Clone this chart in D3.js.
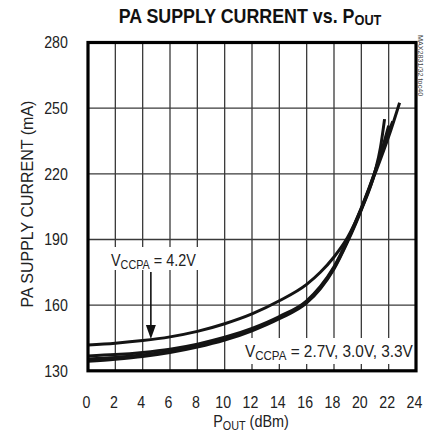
<!DOCTYPE html>
<html>
<head>
<meta charset="utf-8">
<script src="https://cdn.jsdelivr.net/npm/d3@7"></script>
<style>
  html, body { margin: 0; padding: 0; background: #fff; }
  svg { display: block; }
  text { font-family: "Liberation Sans", Arial, sans-serif; fill: #222; }
</style>
</head>
<body>
<svg id="chart" width="427" height="432"></svg>
<script>
// Axis ticks
const xTicks = [0, 2, 4, 6, 8, 10, 12, 14, 16, 18, 20, 22, 24];
const yTicks = [130, 160, 190, 220, 250, 280];
const xGrid = [2, 4, 6, 8, 10, 12, 14, 16, 18, 20, 22];
const yGrid = [160, 190, 220, 250];

// Supply current (mA) vs output power (dBm), one pair of lists per supply voltage
const pout42 = [0, 2, 4, 6, 8, 10, 12, 14, 16, 17, 18, 19, 20, 21, 22, 22.8];
const ma42   = [141.8, 142.6, 143.8, 145.5, 148, 151.5, 156, 162, 169.5, 175, 182, 191, 204, 220, 237, 252.5];
const pout33 = [0, 2, 4, 6, 8, 10, 12, 14, 16, 17, 18, 19, 20, 21, 21.7, 22.3];
const ma33   = [136.8, 137.4, 138.4, 139.9, 142.2, 145.3, 149.4, 154.8, 162, 168.5, 177.5, 190, 204.5, 221, 234, 244];
const pout30 = [0, 2, 4, 6, 8, 10, 12, 14, 16, 17, 18, 19, 20, 21, 21.6, 22.0];
const ma30   = [135.4, 136.1, 137.2, 138.9, 141.4, 144.6, 148.8, 154.3, 161.5, 168, 177, 189.5, 204, 221, 233, 242];
const pout27 = [0, 2, 4, 6, 8, 10, 12, 14, 16, 17, 18, 19, 20, 21, 21.4, 21.7];
const ma27   = [134.4, 135.3, 136.5, 138.3, 140.8, 144, 148.3, 153.8, 161, 167.5, 176.5, 189, 203.5, 221, 232, 245];

const seriesList = [
  { name: "2.7V", pout: pout27, ma: ma27 },
  { name: "3.0V", pout: pout30, ma: ma30 },
  { name: "3.3V", pout: pout33, ma: ma33 },
  { name: "4.2V", pout: pout42, ma: ma42 }
];

const svg = d3.select("#chart");
const plotLeft = 88, plotRight = 416, plotTop = 42.5, plotBottom = 370.8;

const x = d3.scaleLinear().domain([0, 24]).range([plotLeft, plotRight]);
const y = d3.scaleLinear().domain([130, 280]).range([plotBottom, plotTop]);

// Condensed text: horizontal squeeze about the anchor point
function label(px, py, sx, size) {
  return svg.append("text")
    .attr("transform", `translate(${px},${py}) scale(${sx},1)`)
    .style("font-size", size + "px");
}

// Title
const title = label(250, 23, 0.85, 21)
  .attr("text-anchor", "middle")
  .style("font-weight", "bold")
  .style("fill", "#111");
title.append("tspan").text("PA SUPPLY CURRENT vs. P");
title.append("tspan").attr("dy", 2).style("font-size", "15px").text("OUT");

// Grid lines
const grid = svg.append("g");
grid.selectAll("line.v").data(xGrid).join("line")
  .attr("x1", d => x(d)).attr("x2", d => x(d))
  .attr("y1", plotTop).attr("y2", plotBottom)
  .attr("stroke", "#3a3a3a").attr("stroke-width", 1.3);
grid.selectAll("line.h").data(yGrid).join("line")
  .attr("x1", plotLeft).attr("x2", plotRight)
  .attr("y1", d => y(d)).attr("y2", d => y(d))
  .attr("stroke", "#3a3a3a").attr("stroke-width", 1.3);

// Annotation backgrounds (mask grid lines behind the labels)
svg.append("rect").attr("x", 108).attr("y", 247).attr("width", 93).attr("height", 23).attr("fill", "#fff");
svg.append("rect").attr("x", 240).attr("y", 338).attr("width", 174).attr("height", 26).attr("fill", "#fff");

// Curves
const line = d3.line()
  .x(d => x(d[0])).y(d => y(d[1]))
  .curve(d3.curveMonotoneX);
svg.append("g").selectAll("path").data(seriesList).join("path")
  .attr("d", s => line(s.pout.map((p, i) => [p, s.ma[i]])))
  .attr("fill", "none")
  .attr("stroke", "#141414")
  .attr("stroke-width", 3)
  .attr("stroke-linejoin", "round");

// Frame
svg.append("rect")
  .attr("x", plotLeft).attr("y", plotTop)
  .attr("width", plotRight - plotLeft).attr("height", plotBottom - plotTop)
  .attr("fill", "none").attr("stroke", "#000").attr("stroke-width", 3.2);

// Axes (labels only; frame and grid drawn separately)
const xAxis = svg.append("g")
  .attr("transform", `translate(-2,${plotBottom})`)
  .call(d3.axisBottom(x).tickValues(xTicks).tickSize(0).tickPadding(25).tickFormat(d3.format("d")));
xAxis.select(".domain").remove();
xAxis.selectAll("text").style("font-size", "16.5px").style("fill", "#222")
  .attr("transform", "scale(0.86,1)");

const yAxis = svg.append("g")
  .attr("transform", `translate(${plotLeft},0)`)
  .call(d3.axisLeft(y).tickValues(yTicks).tickSize(0).tickPadding(23.5).tickFormat(d3.format("d")));
yAxis.select(".domain").remove();
yAxis.selectAll("text").style("font-size", "16.5px").style("fill", "#222")
  .attr("transform", "scale(0.86,1)");

// Axis titles
const xt = label(251, 427, 0.9, 16).attr("text-anchor", "middle");
xt.append("tspan").text("P");
xt.append("tspan").attr("dy", 3).style("font-size", "12px").text("OUT");
xt.append("tspan").attr("dy", -3).text(" (dBm)");

svg.append("text")
  .attr("transform", "translate(33,204) rotate(-90)")
  .attr("text-anchor", "middle")
  .style("font-size", "16px")
  .text("PA SUPPLY CURRENT (mA)");

// Part number tag
svg.append("text")
  .attr("transform", "translate(418,35) rotate(90) scale(0.9,1)")
  .style("font-size", "8px").style("fill", "#444")
  .text("MAX2831/32 toc40");

// Annotations
const a1 = label(111, 266, 0.9, 16);
a1.append("tspan").text("V");
a1.append("tspan").attr("dy", 3).style("font-size", "12px").text("CCPA");
a1.append("tspan").attr("dy", -3).text(" = 4.2V");

const arrowX = x(4.6);
svg.append("line")
  .attr("x1", arrowX).attr("x2", arrowX)
  .attr("y1", 272).attr("y2", 327)
  .attr("stroke", "#111").attr("stroke-width", 1.6);
svg.append("path")
  .attr("d", `M${arrowX - 5},${325} L${arrowX + 5},${325} L${arrowX},${339} Z`)
  .attr("fill", "#111");

const a2 = label(245, 357, 0.96, 16);
a2.append("tspan").text("V");
a2.append("tspan").attr("dy", 3).style("font-size", "12px").text("CCPA");
a2.append("tspan").attr("dy", -3).text(" = 2.7V, 3.0V, 3.3V");
</script>
</body>
</html>
